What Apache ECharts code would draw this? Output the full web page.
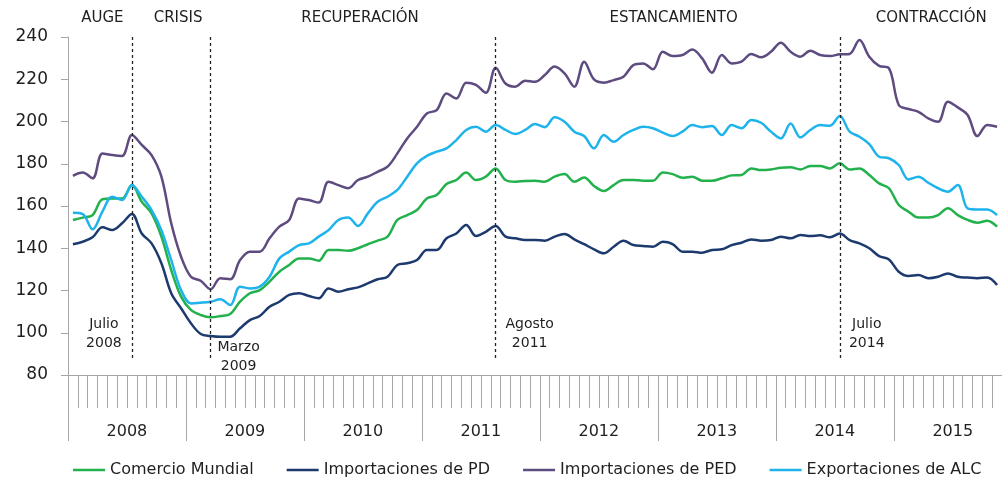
<!DOCTYPE html>
<html>
<head>
<meta charset="utf-8">
<script src="https://cdn.jsdelivr.net/npm/echarts@6/dist/echarts.min.js"></script>
<style>html,body{margin:0;padding:0;background:#fff;}#c{width:1002px;height:479px;}</style>
</head>
<body>
<div id="c"></div>
<script>
const monthNames = ['Ene','Feb','Mar','Abr','May','Jun','Jul','Ago','Sep','Oct','Nov','Dic'];
const years = [2008, 2009, 2010, 2011, 2012, 2013, 2014, 2015];
const monthCount = 95; // Ene 2008 - Nov 2015

const comercioMundial = [153.4,154.5,155.7,163.2,163.6,163.6,169.9,162.0,156.5,145.5,129.7,117.1,
 110.8,108.4,107.3,107.9,108.9,114.7,118.7,120.2,124.2,128.9,132.1,135.2,
 135.2,134.1,139.2,139.2,138.8,140.0,141.9,143.6,145.5,153.4,155.7,158.1,
 163.6,165.2,170.4,172.3,175.8,172.3,173.9,177.8,172.3,171.5,171.8,172.0,
 171.5,173.9,175.1,171.5,173.5,169.5,167.1,169.9,172.3,172.3,172.0,172.0,
 175.8,175.1,173.4,173.9,172.0,172.0,173.1,174.5,174.7,177.8,177.0,177.3,
 178.1,178.3,177.3,178.9,178.9,177.8,180.2,177.3,177.8,174.7,170.7,168.4,
 160.5,157.3,154.5,154.5,155.7,158.9,155.7,153.4,152.1,153.0,150.2];

const importacionesPD = [141.9,143.1,145.2,149.9,148.6,151.8,156.2,147.0,142.3,132.9,118.7,111.6,
 104.5,99.4,98.5,98.1,98.1,102.1,106.0,107.9,112.3,114.7,117.9,118.7,
 117.4,116.3,121.0,119.4,120.6,121.5,123.4,125.3,126.5,132.1,132.9,134.4,
 139.2,139.2,144.7,147.0,151.0,145.8,147.8,150.5,145.5,144.7,143.9,143.9,
 143.6,145.5,146.7,144.2,141.9,139.5,137.6,140.7,143.6,141.5,141.1,140.7,
 143.1,142.0,138.4,138.4,137.9,139.2,139.5,141.5,142.6,144.2,143.6,143.9,
 145.5,144.7,146.3,145.8,146.1,145.2,147.0,143.9,142.3,140.0,136.3,134.7,
 128.9,126.9,127.3,125.8,126.5,128.1,126.5,126.1,125.8,126.2,122.6];

const importacionesPED = [174.3,175.8,173.1,184.9,184.1,183.7,193.6,188.9,184.1,173.9,151.8,136.0,
 126.5,124.6,120.6,125.8,125.3,134.4,138.4,138.4,144.7,150.2,153.4,163.6,
 162.8,161.6,171.5,169.9,168.4,172.3,173.9,176.2,178.6,184.9,192.0,197.5,
 203.8,205.4,213.3,210.9,218.4,217.3,213.6,225.4,218.0,216.5,219.3,218.8,
 222.0,226.0,222.8,216.5,228.3,219.9,218.4,219.6,221.2,226.7,227.5,224.7,
 233.0,231.0,231.5,234.1,229.9,223.1,231.5,227.5,228.3,232.0,230.4,233.0,
 237.3,233.0,230.7,233.5,231.5,231.0,231.8,232.0,238.6,230.7,226.3,225.2,
 207.8,205.9,204.6,201.5,199.9,209.4,206.7,203.1,193.1,198.3,197.5];

const exportacionesALC = [156.8,156.2,149.0,157.3,164.4,162.8,169.9,164.4,158.1,148.6,134.4,120.2,
 113.9,114.2,114.7,115.8,113.1,121.8,121.0,121.8,126.5,135.2,138.4,141.5,
 142.3,145.5,148.6,153.4,154.6,150.5,156.5,162.0,164.4,167.6,173.9,180.2,
 183.7,185.7,187.3,191.2,196.0,197.5,195.2,198.3,196.0,194.1,196.0,198.8,
 197.3,202.0,199.9,195.2,193.1,187.3,193.6,190.4,193.6,196.0,197.5,196.8,
 194.7,193.1,195.2,198.3,197.3,197.9,193.6,198.3,196.8,200.7,199.4,195.2,
 192.0,199.1,192.5,196.0,198.3,198.0,202.6,195.2,192.8,189.3,183.3,182.6,
 179.4,172.6,173.9,171.0,168.4,166.8,169.9,158.9,158.4,158.4,155.7];

// Phase names and positions (month index)
const phaseNames = ['AUGE', 'CRISIS', 'RECUPERACIÓN', 'ESTANCAMIENTO', 'CONTRACCIÓN'];
const phaseIdx = [3, 11, 29, 61, 87];
const phaseShift = [0, -3, 2, 1, 3];
// Turning points
const eventIdx = [6, 14, 43, 78];
const eventText = ['Julio\n2008', 'Marzo\n2009', 'Agosto\n2011', 'Julio\n2014'];
const eventLabelValue = [99.4, 88.5, 99.4, 99.4];
const eventShift = [-28, 28, 34, 27];

const yTicks = {min: 80, max: 240, interval: 20};

const categories = [];
for (const y of years) for (const m of monthNames) {
  if (categories.length < monthCount) categories.push(m + ' ' + y);
}

const FONT = 'DejaVu Sans';
const AXIS_COLOR = '#a6a6a6';
const TEXT = '#1f1f1f';

const markLineData = eventIdx.map(i => [{coord: [i, 88]}, {coord: [i, 240]}]);
const markPointData = [];
phaseNames.forEach((n, k) => markPointData.push({
  coord: [phaseIdx[k], 240], value: n,
  label: {formatter: n, offset: [phaseShift[k], -19], fontSize: 15}
}));
eventText.forEach((t, k) => markPointData.push({
  coord: [eventIdx[k], eventLabelValue[k]], value: t,
  label: {formatter: t, offset: [eventShift[k], 0], fontSize: 14, lineHeight: 19}
}));

const chart = echarts.init(document.getElementById('c'), null, {renderer: 'canvas'});

function mkSeries(name, data, color, extra) {
  return Object.assign({
    name, type: 'line', data, xAxisIndex: 0, yAxisIndex: 0,
    symbol: 'none', smooth: 0.35, clip: false,
    lineStyle: {color, width: 2.5}, itemStyle: {color},
    emphasis: {disabled: true}, animation: false
  }, extra || {});
}

chart.setOption({
  animation: false,
  textStyle: {fontFamily: FONT},
  grid: {left: 68, right: 0, top: 37, bottom: 104, containLabel: false},
  legend: {
    left: 68, top: 457, itemWidth: 32, itemHeight: 2.5, itemGap: 33, icon: 'rect',
    textStyle: {fontFamily: FONT, fontSize: 16, color: TEXT},
    data: ['Comercio Mundial', 'Importaciones de PD', 'Importaciones de PED', 'Exportaciones de ALC']
  },
  xAxis: [
    {
      type: 'category', data: categories, boundaryGap: true, position: 'bottom',
      axisLine: {show: true, lineStyle: {color: AXIS_COLOR, width: 1}},
      axisTick: {show: true, interval: 0, length: 33, lineStyle: {color: AXIS_COLOR}},
      axisLabel: {show: false}, splitLine: {show: false}
    },
    {
      type: 'category', data: categories, boundaryGap: true, position: 'bottom',
      axisLine: {show: false},
      axisTick: {show: true, interval: (i) => i % 12 === 0, length: 66, lineStyle: {color: AXIS_COLOR}},
      axisLabel: {
        show: true, interval: (i) => i % 12 === 6, margin: 49,
        fontFamily: FONT, fontSize: 16, color: TEXT, padding: [0, 10, 0, 0],
        formatter: (v) => v.split(' ')[1]
      },
      splitLine: {show: false}
    }
  ],
  yAxis: {
    type: 'value', min: yTicks.min, max: yTicks.max, interval: yTicks.interval,
    axisLine: {show: true, lineStyle: {color: AXIS_COLOR, width: 1}},
    axisTick: {show: true, length: 7, lineStyle: {color: AXIS_COLOR}},
    axisLabel: {fontFamily: FONT, fontSize: 17, color: TEXT, margin: 20},
    splitLine: {show: false}
  },
  series: [
    mkSeries('Comercio Mundial', comercioMundial, '#22b14c', {
      markLine: {
        silent: true, symbol: ['none', 'none'], animation: false,
        label: {show: false},
        lineStyle: {color: '#222', width: 1.3, type: [3, 3]},
        emphasis: {disabled: true},
        data: markLineData
      },
      markPoint: {
        silent: true, symbol: 'circle', symbolSize: 0, animation: false,
        itemStyle: {color: 'rgba(0,0,0,0)'},
        label: {show: true, position: 'inside', color: TEXT, fontFamily: FONT},
        data: markPointData
      }
    }),
    mkSeries('Importaciones de PD', importacionesPD, '#1c3a6e'),
    mkSeries('Importaciones de PED', importacionesPED, '#5e4b7f'),
    mkSeries('Exportaciones de ALC', exportacionesALC, '#1fb3ec')
  ]
});
</script>
</body>
</html>
